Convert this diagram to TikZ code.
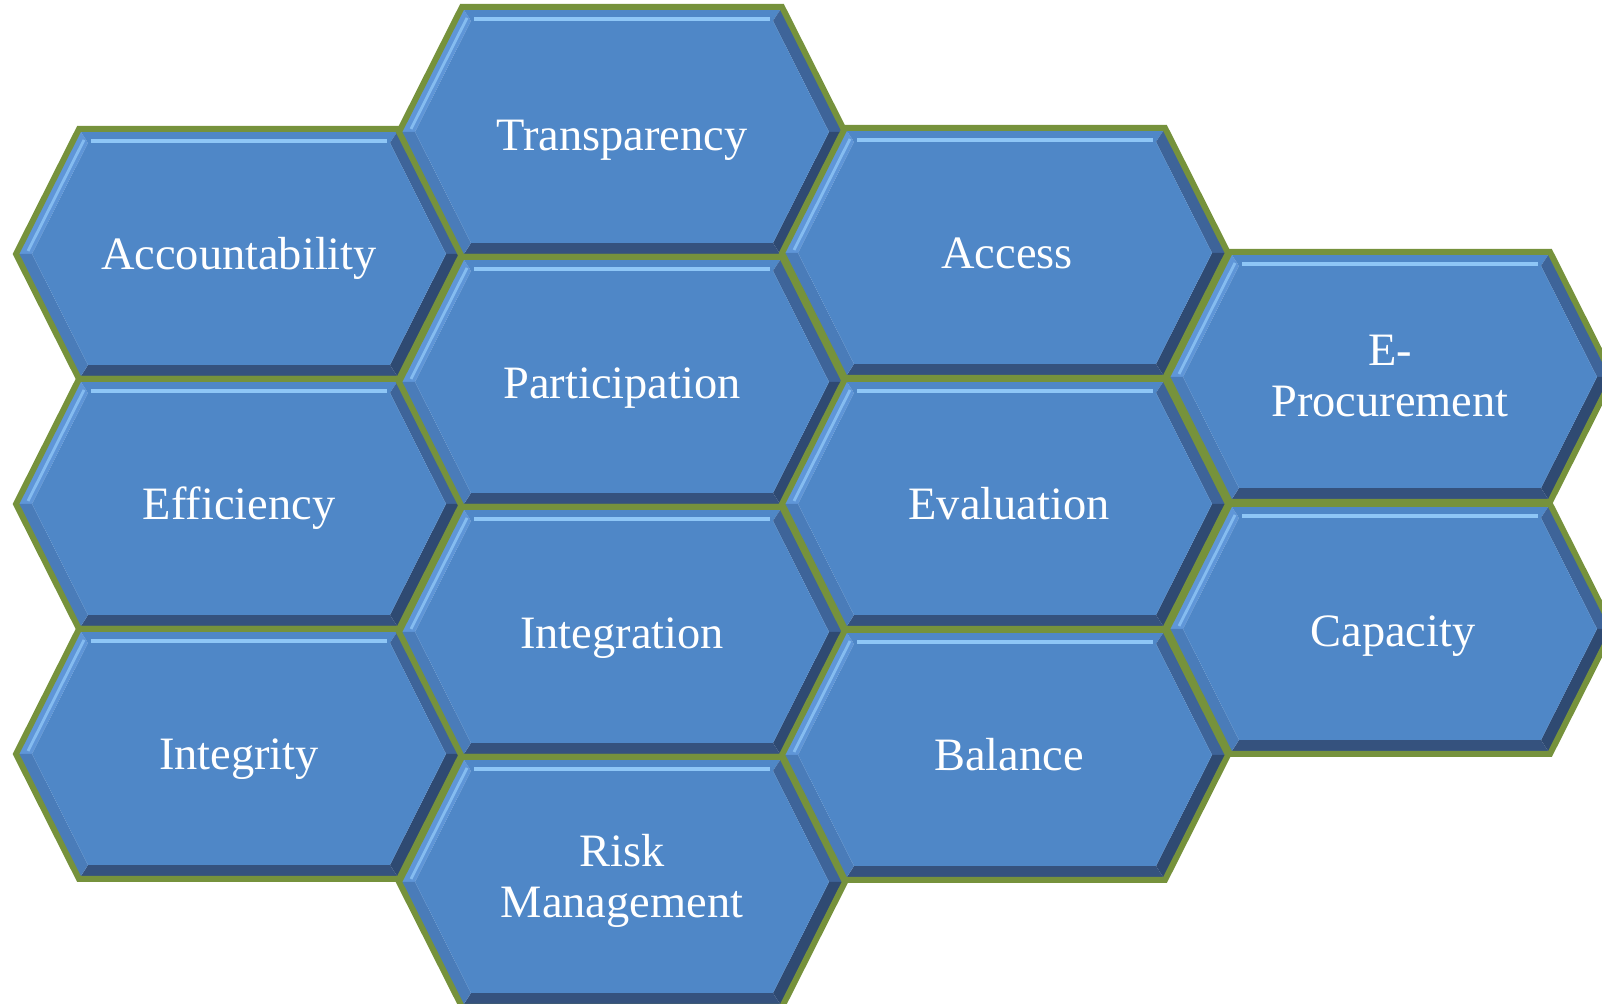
\documentclass[tikz,border=0pt]{standalone}
\usepackage{fontspec}
\setmainfont{Liberation Serif}
\definecolor{cellface}{HTML}{4F87C7}
\definecolor{cellrim}{HTML}{76923C}
\definecolor{bevellight}{HTML}{5F96D8}
\definecolor{bevelglow}{HTML}{8EC6F6}
\definecolor{bevelmid}{HTML}{3E6499}
\definecolor{beveldark}{HTML}{2F4A72}
\definecolor{bevelshade}{HTML}{35527E}
\definecolor{bevellow}{HTML}{4A7CB9}

\begin{document}
\begin{tikzpicture}[x=0.01cm, y=0.01cm,
	hexcell/.pic={
		\fill[bevellight] (-223,0) -- (-160,125) -- (-151,111) -- (-207,0) -- cycle;
		\fill[cellface] (-160,125) -- (160,125) -- (151,111) -- (-151,111) -- cycle;
		\fill[bevelmid] (160,125) -- (223,0) -- (207,0) -- (151,111) -- cycle;
		\fill[beveldark] (223,0) -- (160,-125) -- (151,-111) -- (207,0) -- cycle;
		\fill[bevelshade] (160,-125) -- (-160,-125) -- (-151,-111) -- (151,-111) -- cycle;
		\fill[bevellow] (-160,-125) -- (-223,0) -- (-207,0) -- (-151,-111) -- cycle;
		\fill[cellface] (-207,0) -- (-151,111) -- (151,111) -- (207,0) -- (151,-111) -- (-151,-111) -- cycle;
		\draw[bevelglow, line width=1.1pt] (-148,113) -- (148,113);
		\draw[bevelglow!80!bevellight, line width=0.8pt] (-211,3) -- (-155,114);
		\draw[cellrim, line width=1.7pt] (-223,0) -- (-160,125) -- (160,125) -- (223,0) -- (160,-125) -- (-160,-125) -- cycle;
	},
	celltext/.style={text=white, font=\fontsize{13.2}{14.6}\selectfont, anchor=base, align=center}
]
	\useasboundingbox (0,0) rectangle (1602,1004);
	\clip (0,0) rectangle (1602,1004);

	% first column
	\pic at (239,750) {hexcell};
	\node[celltext] (accountability) at (239,734) {Accountability};
	\pic at (239,500) {hexcell};
	\node[celltext] (efficiency) at (239,484) {Efficiency};
	\pic at (239,250) {hexcell};
	\node[celltext] (integrity) at (239,234) {Integrity};

	% second column
	\pic at (622,872) {hexcell};
	\node[celltext] (transparency) at (622,853) {Transparency};
	\pic at (622,622) {hexcell};
	\node[celltext] (participation) at (622,605) {Participation};
	\pic at (622,372) {hexcell};
	\node[celltext] (integration) at (622,355) {Integration};
	\pic at (622,122) {hexcell};
	\node[celltext] (risk) at (622,86) {Risk\\Management};

	% third column
	\pic at (1005,751) {hexcell};
	\node[celltext] (access) at (1007,735) {Access};
	\pic at (1005,500) {hexcell};
	\node[celltext] (evaluation) at (1009,484) {Evaluation};
	\pic at (1005,249) {hexcell};
	\node[celltext] (balance) at (1009,233) {Balance};

	% fourth column
	\pic at (1390,627) {hexcell};
	\node[celltext] (eprocurement) at (1390,587) {E-\\Procurement};
	\pic at (1390,375) {hexcell};
	\node[celltext] (capacity) at (1393,357) {Capacity};
\end{tikzpicture}
\end{document}
